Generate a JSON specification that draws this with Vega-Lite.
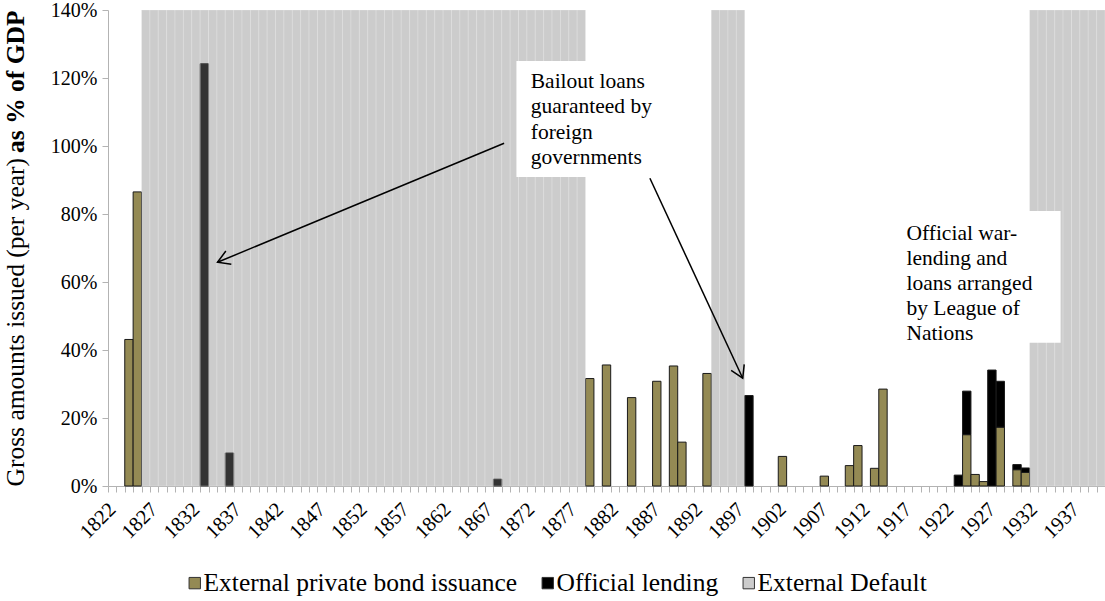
{
  "$schema": "https://vega.github.io/schema/vega-lite/v6.json",
  "width": 997,
  "height": 476,
  "autosize": {"type": "none"},
  "padding": {"left": 108, "top": 10, "right": 0, "bottom": 115},
  "config": {
    "view": {"stroke": null},
    "font": "'Liberation Serif', 'Times New Roman', Times, serif"
  },
  "datasets": {
    "issuance": [
      {"year": 1824, "private": 0.431, "official": 0},
      {"year": 1825, "private": 0.865, "official": 0},
      {"year": 1833, "private": 0, "official": 1.242},
      {"year": 1836, "private": 0, "official": 0.097},
      {"year": 1868, "private": 0, "official": 0.02},
      {"year": 1879, "private": 0.316, "official": 0},
      {"year": 1881, "private": 0.356, "official": 0},
      {"year": 1884, "private": 0.26, "official": 0},
      {"year": 1887, "private": 0.308, "official": 0},
      {"year": 1889, "private": 0.353, "official": 0},
      {"year": 1890, "private": 0.129, "official": 0},
      {"year": 1893, "private": 0.331, "official": 0},
      {"year": 1898, "private": 0, "official": 0.266},
      {"year": 1902, "private": 0.087, "official": 0},
      {"year": 1907, "private": 0.029, "official": 0},
      {"year": 1910, "private": 0.06, "official": 0},
      {"year": 1911, "private": 0.119, "official": 0},
      {"year": 1913, "private": 0.052, "official": 0},
      {"year": 1914, "private": 0.285, "official": 0},
      {"year": 1923, "private": 0, "official": 0.032},
      {"year": 1924, "private": 0.151, "official": 0.128},
      {"year": 1925, "private": 0.034, "official": 0},
      {"year": 1926, "private": 0.013, "official": 0},
      {"year": 1927, "private": 0, "official": 0.341},
      {"year": 1928, "private": 0.173, "official": 0.135},
      {"year": 1930, "private": 0.048, "official": 0.015},
      {"year": 1931, "private": 0.04, "official": 0.013}
    ],
    "defaults": [
      {"year": 1826, "default": 1.4}, {"year": 1827, "default": 1.4}, {"year": 1828, "default": 1.4}, {"year": 1829, "default": 1.4},
      {"year": 1830, "default": 1.4}, {"year": 1831, "default": 1.4}, {"year": 1832, "default": 1.4}, {"year": 1833, "default": 1.4},
      {"year": 1834, "default": 1.4}, {"year": 1835, "default": 1.4}, {"year": 1836, "default": 1.4}, {"year": 1837, "default": 1.4},
      {"year": 1838, "default": 1.4}, {"year": 1839, "default": 1.4}, {"year": 1840, "default": 1.4}, {"year": 1841, "default": 1.4},
      {"year": 1842, "default": 1.4}, {"year": 1843, "default": 1.4}, {"year": 1844, "default": 1.4}, {"year": 1845, "default": 1.4},
      {"year": 1846, "default": 1.4}, {"year": 1847, "default": 1.4}, {"year": 1848, "default": 1.4}, {"year": 1849, "default": 1.4},
      {"year": 1850, "default": 1.4}, {"year": 1851, "default": 1.4}, {"year": 1852, "default": 1.4}, {"year": 1853, "default": 1.4},
      {"year": 1854, "default": 1.4}, {"year": 1855, "default": 1.4}, {"year": 1856, "default": 1.4}, {"year": 1857, "default": 1.4},
      {"year": 1858, "default": 1.4}, {"year": 1859, "default": 1.4}, {"year": 1860, "default": 1.4}, {"year": 1861, "default": 1.4},
      {"year": 1862, "default": 1.4}, {"year": 1863, "default": 1.4}, {"year": 1864, "default": 1.4}, {"year": 1865, "default": 1.4},
      {"year": 1866, "default": 1.4}, {"year": 1867, "default": 1.4}, {"year": 1868, "default": 1.4}, {"year": 1869, "default": 1.4},
      {"year": 1870, "default": 1.4}, {"year": 1871, "default": 1.4}, {"year": 1872, "default": 1.4}, {"year": 1873, "default": 1.4},
      {"year": 1874, "default": 1.4}, {"year": 1875, "default": 1.4}, {"year": 1876, "default": 1.4}, {"year": 1877, "default": 1.4},
      {"year": 1878, "default": 1.4},
      {"year": 1894, "default": 1.4}, {"year": 1895, "default": 1.4}, {"year": 1896, "default": 1.4}, {"year": 1897, "default": 1.4},
      {"year": 1932, "default": 1.4}, {"year": 1933, "default": 1.4}, {"year": 1934, "default": 1.4}, {"year": 1935, "default": 1.4},
      {"year": 1936, "default": 1.4}, {"year": 1937, "default": 1.4}, {"year": 1938, "default": 1.4}, {"year": 1939, "default": 1.4},
      {"year": 1940, "default": 1.4}
    ]
  },
  "resolve": {"scale": {"x": "independent"}, "axis": {"y": "independent"}},
  "layer": [
    {
      "layer": [
        {
          "data": {"name": "issuance"},
          "transform": [
            {"fold": ["private", "official"], "as": ["series", "value"]},
            {"filter": "datum.value > 0"}
          ],
          "mark": {"type": "bar", "stroke": "#1a1a1a", "strokeWidth": 1},
          "encoding": {
            "x": {
              "field": "year", "type": "ordinal",
              "scale": {
                "domain": [1822,1823,1824,1825,1826,1827,1828,1829,1830,1831,1832,1833,1834,1835,1836,1837,1838,1839,1840,1841,1842,1843,1844,1845,1846,1847,1848,1849,1850,1851,1852,1853,1854,1855,1856,1857,1858,1859,1860,1861,1862,1863,1864,1865,1866,1867,1868,1869,1870,1871,1872,1873,1874,1875,1876,1877,1878,1879,1880,1881,1882,1883,1884,1885,1886,1887,1888,1889,1890,1891,1892,1893,1894,1895,1896,1897,1898,1899,1900,1901,1902,1903,1904,1905,1906,1907,1908,1909,1910,1911,1912,1913,1914,1915,1916,1917,1918,1919,1920,1921,1922,1923,1924,1925,1926,1927,1928,1929,1930,1931,1932,1933,1934,1935,1936,1937,1938,1939,1940],
                "paddingInner": 0, "paddingOuter": 0
              },
              "axis": {
                "title": null,
                "tickBand": "extent",
                "labelExpr": "(datum.value - 1822) % 5 === 0 ? '' + datum.value : ''",
                "labelOverlap": false,
                "labelAngle": -45,
                "labelAlign": "right",
                "labelBaseline": "middle",
                "labelPadding": 14,
                "labelFont": "'Liberation Serif', 'Times New Roman', Times, serif",
                "labelFontSize": 20.5,
                "labelColor": "#000000",
                "tickSize": 6,
                "tickColor": "#b3b3b3",
                "domainColor": "#b3b3b3",
                "grid": false
              }
            },
            "y": {
              "field": "value", "type": "quantitative", "stack": "zero",
              "scale": {"domain": [0, 1.4], "nice": false},
              "axis": {
                "title": "Gross amounts issued (per year)",
                "orient": "left",
                "values": [0, 0.2, 0.4, 0.6, 0.8, 1.0, 1.2, 1.4],
                "format": ".0%",
                "grid": false,
                "labelFont": "'Liberation Serif', 'Times New Roman', Times, serif",
                "labelFontSize": 20,
                "labelColor": "#000000",
                "labelPadding": 5,
                "tickSize": 6,
                "tickColor": "#b3b3b3",
                "domainColor": "#b3b3b3",
                "titleFont": "'Liberation Serif', 'Times New Roman', Times, serif",
                "titleFontSize": 25.5,
                "titleFontWeight": "normal",
                "titleColor": "#000000",
                "titleAnchor": "start",
                "titleX": -80
              }
            },
            "order": {"field": "series", "sort": "descending"},
            "color": {
              "field": "series", "type": "nominal",
              "scale": {"domain": ["private", "official", "default"], "range": ["#948a54", "#000000", "#cccccc"]},
              "legend": {
                "title": null,
                "orient": "none",
                "legendX": 74,
                "legendY": 560,
                "direction": "horizontal",
                "symbolType": "square",
                "symbolSize": 130,
                "symbolStrokeColor": "#333333",
                "symbolStrokeWidth": 1,
                "labelFont": "'Liberation Serif', 'Times New Roman', Times, serif",
                "labelFontSize": 25.5,
                "labelColor": "#000000",
                "labelLimit": 0,
                "labelOffset": -4,
                "columnPadding": 17,
                "labelExpr": "datum.value === 'private' ? 'External private bond issuance' : datum.value === 'official' ? 'Official lending' : 'External Default'"
              }
            }
          }
        },
        {
          "data": {"name": "defaults"},
          "mark": {"type": "bar", "fill": "#808080", "fillOpacity": 0.4, "stroke": "#ffffff", "strokeOpacity": 0.2, "strokeWidth": 1},
          "encoding": {
            "x": {"field": "year", "type": "ordinal"},
            "y": {"field": "default", "type": "quantitative"}
          }
        }
      ]
    },
    {
      "data": {"values": [{}]},
      "layer": [
        {
          "mark": {"type": "rect", "fill": "#ffffff"},
          "encoding": {
            "x": {"datum": 1870.25, "type": "quantitative", "scale": {"domain": [1821.5, 1940.5], "nice": false, "zero": false}, "axis": null},
            "x2": {"datum": 1888.2},
            "y": {
              "datum": 0.909, "type": "quantitative",
              "axis": {
                "title": "as % of GDP",
                "orient": "left",
                "labels": false, "ticks": false, "domain": false, "grid": false,
                "titleFont": "'Liberation Serif', 'Times New Roman', Times, serif",
                "titleFontSize": 25.5,
                "titleFontWeight": "bold",
                "titleColor": "#000000",
                "titleAnchor": "end",
                "titleX": -80
              }
            },
            "y2": {"datum": 1.25}
          }
        },
        {
          "mark": {"type": "rect", "fill": "#ffffff"},
          "encoding": {
            "x": {"datum": 1915.0, "type": "quantitative"},
            "x2": {"datum": 1935.2},
            "y": {"datum": 0.421, "type": "quantitative"},
            "y2": {"datum": 0.809}
          }
        },
        {
          "mark": {"type": "text", "text": ["Bailout loans", "guaranteed by", "foreign", "governments"], "align": "left", "baseline": "alphabetic", "font": "'Liberation Serif', 'Times New Roman', Times, serif", "fontSize": 21.5, "lineHeight": 25.5, "color": "#000000"},
          "encoding": {
            "x": {"datum": 1871.96, "type": "quantitative"},
            "y": {"datum": 1.172, "type": "quantitative"}
          }
        },
        {
          "mark": {"type": "text", "text": ["Official war-", "lending and", "loans arranged", "by League of", "Nations"], "align": "left", "baseline": "alphabetic", "font": "'Liberation Serif', 'Times New Roman', Times, serif", "fontSize": 21.5, "lineHeight": 25, "color": "#000000"},
          "encoding": {
            "x": {"datum": 1916.8, "type": "quantitative"},
            "y": {"datum": 0.725, "type": "quantitative"}
          }
        },
        {
          "mark": {"type": "rule", "color": "#000000", "strokeWidth": 1.5},
          "encoding": {
            "x": {"datum": 1868.78, "type": "quantitative"},
            "x2": {"datum": 1834.57},
            "y": {"datum": 1.008, "type": "quantitative"},
            "y2": {"datum": 0.658}
          }
        },
        {
          "mark": {"type": "rule", "color": "#000000", "strokeWidth": 1.5},
          "encoding": {
            "x": {"datum": 1886.18, "type": "quantitative"},
            "x2": {"datum": 1897.26},
            "y": {"datum": 0.905, "type": "quantitative"},
            "y2": {"datum": 0.317}
          }
        },
        {
          "mark": {"type": "point", "shape": "M -0.6 1 L 0 0 L 0.6 1", "filled": false, "stroke": "#000000", "strokeWidth": 1.5, "size": 576, "angle": 247.5, "opacity": 1},
          "encoding": {
            "x": {"datum": 1834.57, "type": "quantitative"},
            "y": {"datum": 0.658, "type": "quantitative"}
          }
        },
        {
          "mark": {"type": "point", "shape": "M -0.6 1 L 0 0 L 0.6 1", "filled": false, "stroke": "#000000", "strokeWidth": 1.5, "size": 576, "angle": 155.1, "opacity": 1},
          "encoding": {
            "x": {"datum": 1897.26, "type": "quantitative"},
            "y": {"datum": 0.317, "type": "quantitative"}
          }
        }
      ]
    }
  ]
}
